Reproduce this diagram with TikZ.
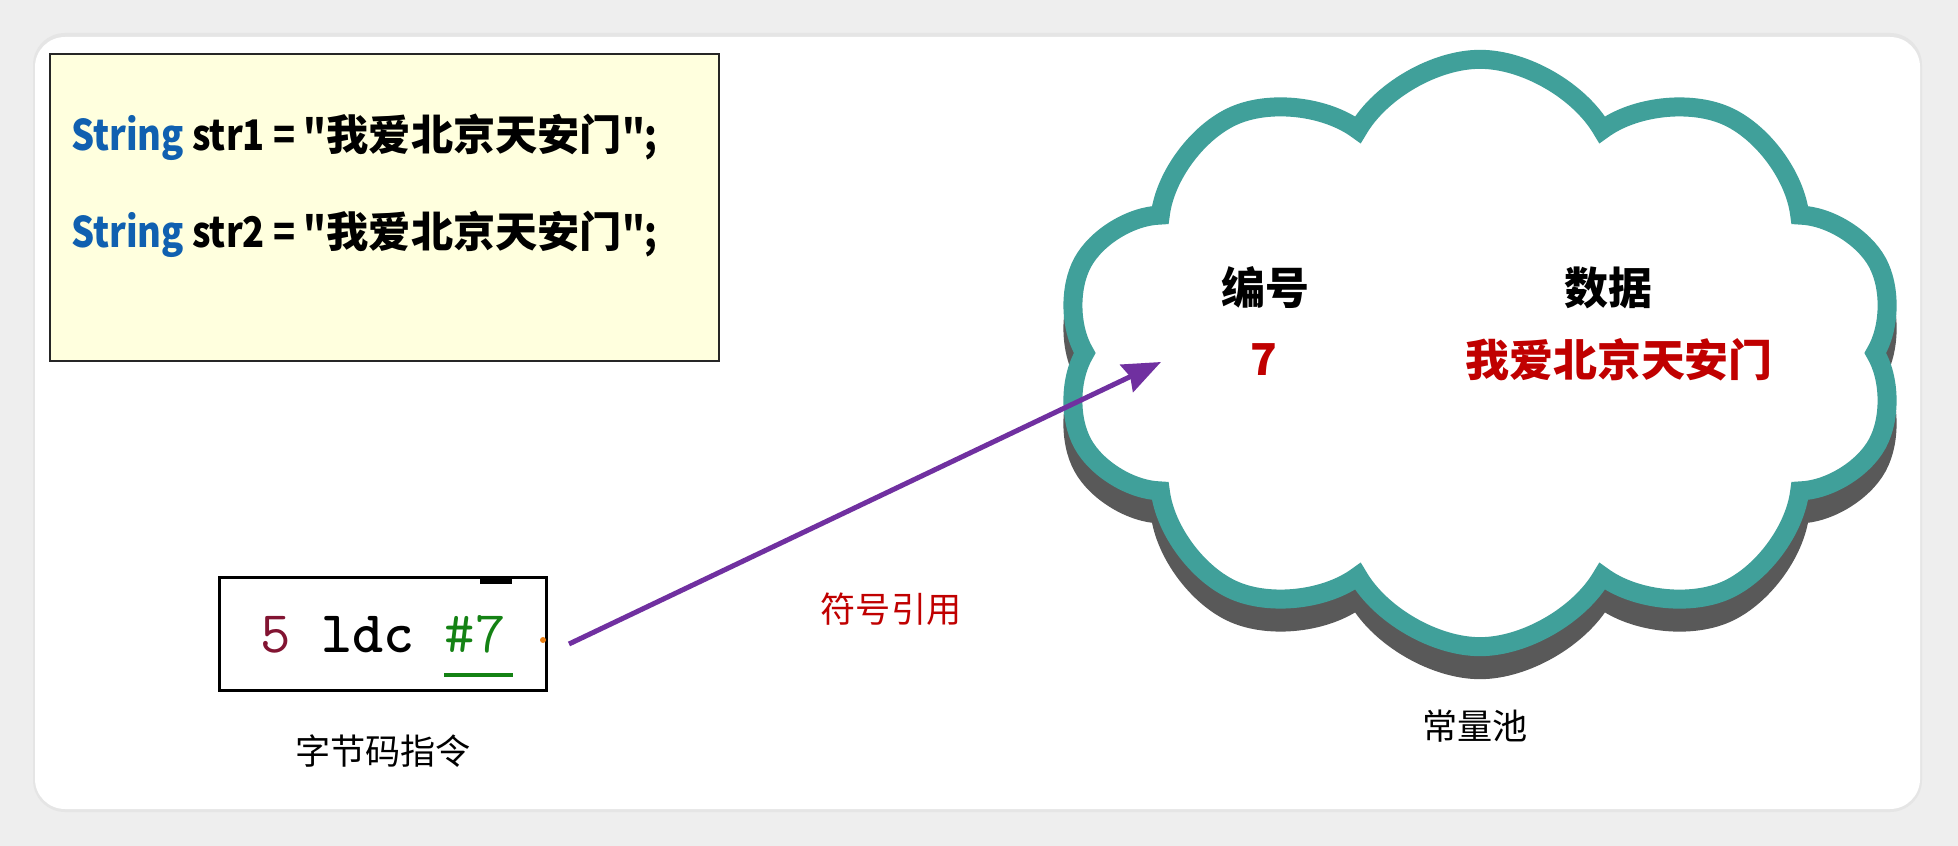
\documentclass[tikz,border=0pt]{standalone}
\usepackage{fontspec}
\setmainfont{Noto Sans CJK SC}[Ligatures=TeXOff]
\newfontfamily\narrowfont{Noto Sans CJK SC}[Ligatures=TeXOff, FakeStretch=0.86]
\usepackage{tikz}
\usetikzlibrary{positioning}
\usetikzlibrary{arrows.meta}
\usetikzlibrary{shapes.symbols}

\definecolor{codeblue}{RGB}{16,96,176}
\definecolor{darkred}{RGB}{192,0,0}
\definecolor{poolteal}{RGB}{64,160,154}
\definecolor{refpurple}{RGB}{112,48,160}
\definecolor{notepaper}{RGB}{255,255,222}
\definecolor{backgray}{RGB}{238,238,238}
\definecolor{numbrown}{RGB}{130,20,50}
\definecolor{refgreen}{RGB}{20,130,20}

\begin{document}
\begin{tikzpicture}[
            > = {Stealth[length=0.38cm, width=0.3cm, inset=0.04cm]}, % arrow head style
            x = 0.01cm, y = -0.01cm, % one unit = one pixel
            node distance = 0.3cm,
            semithick % line style
        ]

        \tikzstyle{code line}=[
            anchor = west,
            inner sep = 0pt,
            font = \fontsize{12}{14}\selectfont\bfseries
        ]
        \tikzstyle{caption}=[
            font = \fontsize{10}{12}\selectfont
        ]
        \tikzstyle{pool text}=[
            font = \fontsize{12.5}{15}\selectfont\bfseries
        ]
        \tikzstyle{pool cloud}=[
            cloud,
            cloud puffs = 10,
            cloud puff arc = 120,
            minimum width = 8.35cm,
            minimum height = 5.87cm,
            line width = 0.19cm
        ]

        % page
        \useasboundingbox (0,0) rectangle (1958,846);
        \fill[backgray] (0,0) rectangle (1958,846);
        \fill[black!10, rounded corners = 0.32cm] (33,33) rectangle (1922,812);
        \fill[white, rounded corners = 0.3cm] (35,37) rectangle (1920,809);

	% source code
        \node[draw = black!85, line width = 0.02cm, fill = notepaper,
              minimum width = 6.69cm, minimum height = 3.07cm] (src) at (384.5,207.5) {};
        \node[code line] (s1) at (70,137)
              {{\narrowfont\textcolor{codeblue}{String} str1 = "}我爱北京天安门{\narrowfont";}};
        \node[code line] (s2) at (70,234)
              {{\narrowfont\textcolor{codeblue}{String} str2 = "}我爱北京天安门{\narrowfont";}};

	% bytecode
        \node[draw, line width = 0.03cm, fill = white,
              minimum width = 3.26cm, minimum height = 1.12cm,
              font = \fontsize{16.8}{20}\ttfamily] (bc) at (383,634)
              {\textcolor{numbrown}{5} \textbf{ldc} \textcolor{refgreen}{\#7}};
        \fill (480,577) rectangle (512,584);
        \fill[orange!70!brown] (543,640) circle (3);
        \draw[refgreen, line width = 0.04cm] (444,675) -- (513,675);
        \node[caption] (bcl) [below = of bc] {字节码指令};

	% constant pool
        \node[pool cloud, draw = black!65, fill = black!65] (shadow) at (1480,376) {};
        \node[pool cloud, draw = poolteal, fill = white] (pool) at (1480,353) {};
        \node[caption] (pl) at (1475,726) {常量池};

        \node[pool text] (idh) at (1265,288) {编号};
        \node[pool text] (dah) at (1608,288) {数据};
        \node[pool text, text = darkred] (id) at (1264,360) {7};
        \node[pool text, text = darkred] (da) at (1619,360) {我爱北京天安门};

	% symbolic reference
        \coordinate (from) at (569,644);
        \coordinate (to) at (1161,362);
        \draw[->, color = refpurple, line width = 0.05cm] (from) -- (to);
        \node[caption, text = darkred] (ref) at (891,609) {符号引用};

\end{tikzpicture}
\end{document}
